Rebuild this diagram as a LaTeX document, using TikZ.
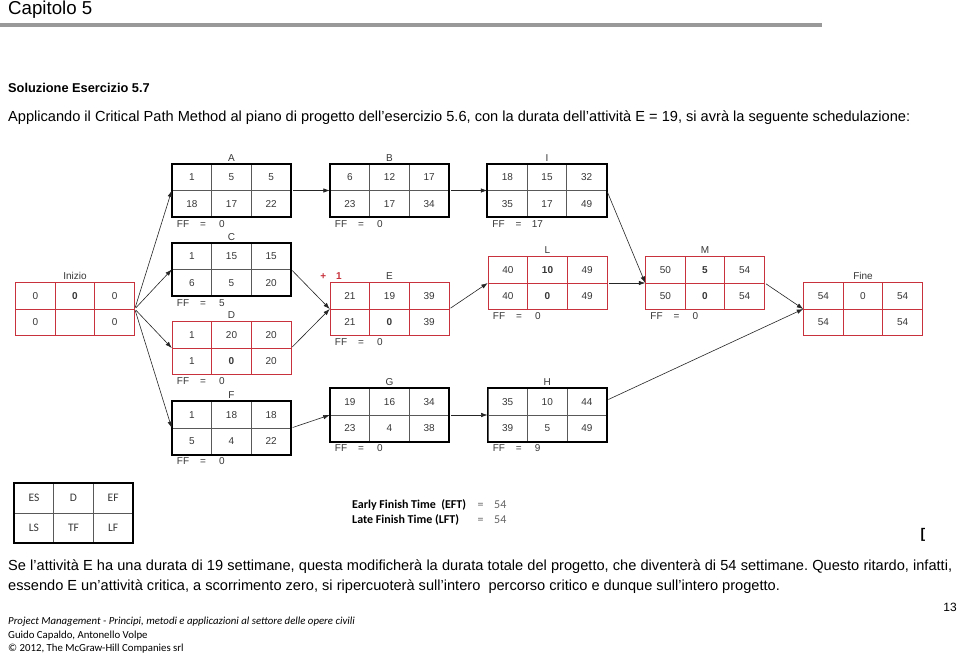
\documentclass[tikz,border=0pt]{standalone}
\usepackage{fontspec}
\setmainfont{Liberation Sans}
\newfontfamily\calfont{Carlito}
\usetikzlibrary{matrix,positioning,arrows.meta}
\frenchspacing

\definecolor{critred}{RGB}{200,50,60}
\definecolor{inkgray}{RGB}{55,55,55}

\tikzset{
  cell/.style={draw=#1, line width=0.7pt, minimum width=39.6pt, minimum height=26.5pt,
    inner sep=0pt, outer sep=0pt, anchor=center, font=\fontsize{10}{11}\selectfont, text=inkgray},
  actbox/.style={matrix of nodes, nodes in empty cells, inner sep=0pt, outer sep=0pt,
    column sep=-0.7pt, row sep=-0.7pt, nodes={cell=black!65}},
  critbox/.style={actbox, nodes={cell=critred}},
  legbox/.style={actbox, nodes={minimum height=29.5pt, font=\calfont\fontsize{11.5}{13}\selectfont}},
  boxline/.style={line width=1.8pt},
  boxtitle/.style={inner sep=1pt, font=\fontsize{10}{11}\selectfont, text=inkgray},
  ffnote/.style={anchor=west, inner sep=0pt, font=\fontsize{10}{11}\selectfont, text=inkgray},
  link/.style={-{Latex[length=6.5pt,width=4.5pt]}, line width=0.6pt, black!85, shorten <=1.5pt},
  para/.style={anchor=west, inner sep=0pt, font=\fontsize{14.6}{16}\selectfont},
  foot/.style={anchor=west, inner sep=0pt, font=\calfont\fontsize{10.8}{12}\selectfont},
  legtext/.style={anchor=west, inner sep=0pt, font=\calfont\fontsize{12}{14}\selectfont},
}

\begin{document}
\begin{tikzpicture}[x=1pt,y=-1pt]
	\fill[white] (0,0) rectangle (960,656);
	\useasboundingbox (0,0) rectangle (960,656);

	\node[para, font=\fontsize{18.7}{20}\selectfont] (chap) at (8,10) {Capitolo 5};
	\draw[black!40, line width=4pt] (0,25) -- (822,25);
	\node[para, font=\bfseries\fontsize{12.8}{15}\selectfont] (sol) at (8,88) {Soluzione Esercizio 5.7};
	\node[para] (intro) at (8,118) {Applicando il Critical Path Method al piano di progetto dell’esercizio 5.6, con la durata dell’attività E = 19, si avrà la seguente schedulazione:};

	\matrix[critbox] (inizio) at (75,309) {0 & \textbf{0} & 0\\ 0 & & 0\\};
	\matrix[actbox] (A) at (231.5,190.5) {1 & 5 & 5\\ 18 & 17 & 22\\};
	\matrix[actbox] (B) at (389.5,190.5) {6 & 12 & 17\\ 23 & 17 & 34\\};
	\matrix[actbox] (I) at (547,190.5) {18 & 15 & 32\\ 35 & 17 & 49\\};
	\matrix[actbox] (C) at (231.5,269.5) {1 & 15 & 15\\ 6 & 5 & 20\\};
	\matrix[critbox] (E) at (389.5,309) {21 & 19 & 39\\ 21 & \textbf{0} & 39\\};
	\matrix[critbox] (D) at (231.5,348) {1 & 20 & 20\\ 1 & \textbf{0} & 20\\};
	\matrix[actbox] (F) at (231.5,428) {1 & 18 & 18\\ 5 & 4 & 22\\};
	\matrix[actbox] (G) at (389.5,415) {19 & 16 & 34\\ 23 & 4 & 38\\};
	\matrix[actbox] (H) at (547.3,415) {35 & 10 & 44\\ 39 & 5 & 49\\};
	\matrix[critbox] (L) at (547.5,283) {40 & \textbf{10} & 49\\ 40 & \textbf{0} & 49\\};
	\matrix[critbox] (M) at (705,283) {50 & \textbf{5} & 54\\ 50 & \textbf{0} & 54\\};
	\matrix[critbox] (fine) at (863,309) {54 & 0 & 54\\ 54 & & 54\\};
	\matrix[legbox] (legend) at (73.5,513) {ES & D & EF\\ LS & TF & LF\\};

	\foreach \b in {A,B,I,C,F,G,H,legend}
		\draw[boxline] (\b.north west) rectangle (\b.south east);

	\foreach \b/\t in {inizio/Inizio,A/A,B/B,I/I,C/C,E/E,D/D,F/F,G/G,H/H,L/L,M/M,fine/Fine}
		\node[boxtitle, above=1pt of \b] (\b-t) {\t};

	\foreach \b/\v in {A/0,B/0,I/17,C/5,E/0,D/0,F/0,G/0,H/9,L/0,M/0}
		\node[ffnote] (ff\b) at ([xshift=5pt,yshift=-6.3pt]\b.south west)
			{\makebox[21pt][l]{FF}\makebox[10pt]{=}\makebox[28pt]{\v}};

	\node[text=critred, font=\bfseries\fontsize{10}{11}\selectfont, inner sep=0pt] (delay) at (331,276) {+\hspace{10pt}1};

	\draw[link] (inizio.east) -- (A.west);
	\draw[link] (inizio.east) -- (C.west);
	\draw[link] (inizio.east) -- (D.west);
	\draw[link] (inizio.east) -- (F.west);
	\draw[link] (A.east) -- (B.west);
	\draw[link] (B.east) -- (I.west);
	\draw[link] (C.east) -- (E.west);
	\draw[link] (D.east) -- (E.west);
	\draw[link] (E.east) -- (L.west);
	\draw[link] (I.east) -- (M.west);
	\draw[link] (L.east) -- (M.west);
	\draw[link] (M.east) -- (fine.west);
	\draw[link] (F.east) -- (G.west);
	\draw[link] (G.east) -- (H.west);
	\draw[link] (H.14) -- (fine.west);

	\node[legtext] (eft) at (352,505) {\makebox[125.5pt][l]{\textbf{Early Finish Time\ \ (EFT)}}\makebox[16.5pt][l]{\color{black!60}=}{\color{black!60}54}};
	\node[legtext] (lft) at (352,520) {\makebox[125.5pt][l]{\textbf{Late Finish Time (LFT)}}\makebox[16.5pt][l]{\color{black!60}=}{\color{black!60}54}};

	\node[font=\bfseries\fontsize{14}{16}\selectfont, inner sep=0pt] (brk) at (923,535) {[};

	\node[para] (p1) at (8,567) {\spaceskip=2.6pt plus 3pt\xspaceskip=\spaceskip\makebox[944pt][s]{Se l’attività E ha una durata di 19 settimane, questa modificherà la durata totale del progetto, che diventerà di 54 settimane. Questo ritardo, infatti,}};
	\node[para] (p2) at (8,587) {essendo E un’attività critica, a scorrimento zero, si ripercuoterà sull’intero\ \ percorso critico e dunque sull’intero progetto.};
	\node[para, anchor=center, font=\fontsize{12}{14}\selectfont] (page) at (950,607) {13};

	\node[foot] (foot1) at (8,622) {\itshape Project Management - Principi, metodi e applicazioni al settore delle opere civili};
	\node[foot] (foot2) at (8,636) {Guido Capaldo, Antonello Volpe};
	\node[foot] (foot3) at (8,649) {© 2012, The McGraw-Hill Companies srl};
\end{tikzpicture}
\end{document}
